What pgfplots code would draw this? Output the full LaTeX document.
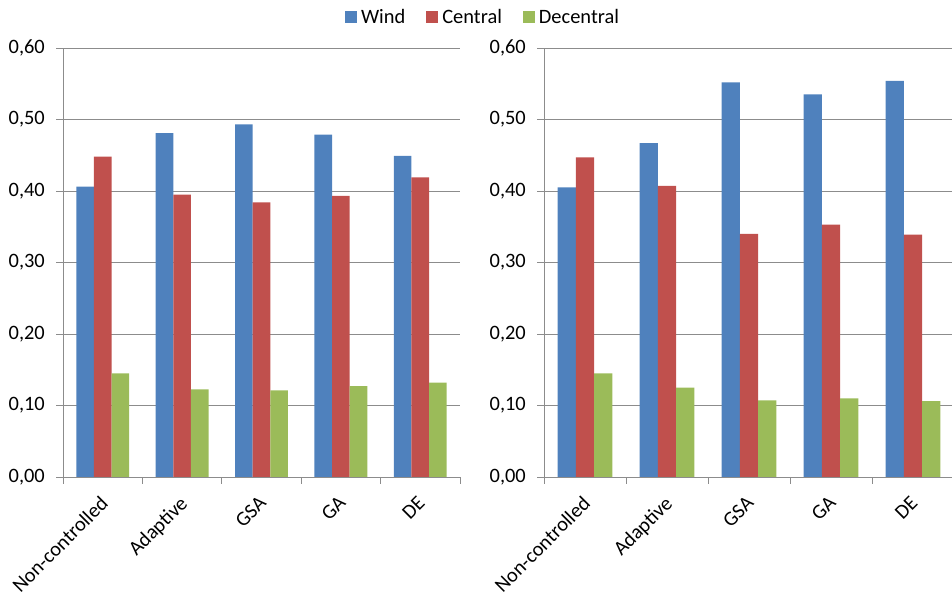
\documentclass[border=0pt]{standalone}
\usepackage{fontspec}
\setmainfont{Carlito}
\usepackage{pgfplots}
\pgfplotsset{compat=1.18}
\definecolor{cWind}{HTML}{4F81BD}
\definecolor{cCentral}{HTML}{C0504D}
\definecolor{cDec}{HTML}{9BBB59}
\definecolor{cGrid}{HTML}{8C8C8C}
\pgfplotsset{
  mybars/.style={
    scale only axis,
    width=#1,
    height=429bp,
    ymin=0, ymax=0.6,
    ytick={0,0.1,...,0.6},
    xmin=-0.5, xmax=4.5,
    xtick={0,1,2,3,4},
    xticklabels={Non-controlled,Adaptive,GSA,GA,DE},
    x tick label style={rotate=45, anchor=north east, inner sep=0bp, xshift=-10bp, yshift=-5bp},
    xtick style={draw=none},
    extra x ticks={-0.5,0.5,1.5,2.5,3.5,4.5},
    extra x tick labels={},
    extra x tick style={xtick style={draw=cGrid, line width=0.8bp}},
    axis lines*=left,
    axis line style={draw=cGrid, line width=0.8bp},
    ymajorgrids,
    major grid style={draw=cGrid, line width=0.8bp},
    ytick style={draw=cGrid, line width=0.8bp},
    tick align=outside,
    major tick length=7bp,
    tick pos=lower,
    /pgf/number format/fixed,
    /pgf/number format/fixed zerofill,
    /pgf/number format/precision=2,
    /pgf/number format/use comma,
    /pgf/number format/assume math mode=true,
    y tick label style={inner sep=0bp, xshift=-11bp},
    ybar=0pt,
    bar width=0.222,
    font=\fontsize{20.5}{23}\selectfont,
    ticklabel style={font=\fontsize{20.5}{23}\selectfont, text=black},
    legend style={draw=none, fill=none, font=\fontsize{20.5}{23}\selectfont,
      legend columns=3, /tikz/every even column/.append style={column sep=19bp},
      /tikz/every odd column/.append style={column sep=2bp}},
    legend image code/.code={\fill[##1] (0bp,-6bp) rectangle (12bp,6bp);},
  }
}
\begin{document}
\begin{tikzpicture}[x=1bp,y=1bp]
\useasboundingbox (0,0) rectangle (952,594);
\begin{axis}[mybars=397bp, at={(63bp,117bp)}, anchor=south west,
  legend style={at={(1.058,1.073)}, anchor=center}]
\addplot[fill=cWind, draw=none, bar shift=-0.222] coordinates {(0,0.406) (1,0.481) (2,0.493) (3,0.479) (4,0.449)};
\addplot[fill=cCentral, draw=none, bar shift=0] coordinates {(0,0.448) (1,0.395) (2,0.384) (3,0.393) (4,0.419)};
\addplot[fill=cDec, draw=none, bar shift=0.222] coordinates {(0,0.145) (1,0.1225) (2,0.121) (3,0.127) (4,0.132)};
\legend{Wind,Central,Decentral}
\end{axis}
\begin{axis}[mybars=410bp, at={(544bp,117bp)}, anchor=south west]
\addplot[fill=cWind, draw=none, bar shift=-0.222] coordinates {(0,0.405) (1,0.467) (2,0.552) (3,0.535) (4,0.554)};
\addplot[fill=cCentral, draw=none, bar shift=0] coordinates {(0,0.447) (1,0.407) (2,0.340) (3,0.353) (4,0.339)};
\addplot[fill=cDec, draw=none, bar shift=0.222] coordinates {(0,0.145) (1,0.125) (2,0.107) (3,0.110) (4,0.106)};
\end{axis}
\end{tikzpicture}
\end{document}
